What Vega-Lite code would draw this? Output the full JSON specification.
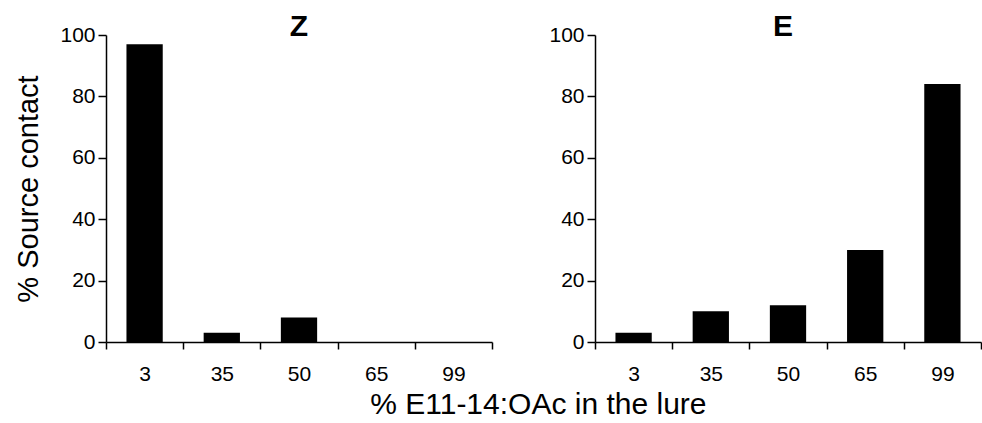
{
  "$schema": "https://vega.github.io/schema/vega-lite/v6.json",
  "padding": {"left": 14, "top": 12, "right": 0, "bottom": 0},
  "background": "white",
  "config": {
    "font": "Liberation Sans",
    "view": {"stroke": null},
    "axis": {
      "grid": false,
      "domainColor": "black",
      "tickColor": "black",
      "labelColor": "black",
      "titleColor": "black",
      "domainWidth": 1.5,
      "tickWidth": 1.5,
      "labelFontSize": 21,
      "labelFont": "Liberation Sans",
      "titleFont": "Liberation Sans"
    },
    "title": {"color": "black", "font": "Liberation Sans"}
  },
  "title": {
    "text": "% E11-14:OAc in the lure",
    "orient": "bottom",
    "anchor": "middle",
    "fontSize": 30,
    "fontWeight": "normal",
    "dx": 40,
    "offset": 6
  },
  "datasets": {
    "bars": [
      {"panel": "Z", "lure": "3", "contact": 97},
      {"panel": "Z", "lure": "35", "contact": 3},
      {"panel": "Z", "lure": "50", "contact": 8},
      {"panel": "Z", "lure": "65", "contact": 0},
      {"panel": "Z", "lure": "99", "contact": 0},
      {"panel": "E", "lure": "3", "contact": 3},
      {"panel": "E", "lure": "35", "contact": 10},
      {"panel": "E", "lure": "50", "contact": 12},
      {"panel": "E", "lure": "65", "contact": 30},
      {"panel": "E", "lure": "99", "contact": 84}
    ]
  },
  "spacing": 55,
  "hconcat": [
    {
      "width": 386,
      "height": 307,
      "data": {"name": "bars"},
      "transform": [{"filter": "datum.panel === 'Z'"}],
      "title": {"text": "Z", "fontSize": 30, "fontWeight": "bold", "anchor": "middle", "baseline": "alphabetic", "offset": -42},
      "mark": {"type": "bar", "color": "black", "width": {"band": 0.47}},
      "encoding": {
        "x": {
          "field": "lure", "type": "ordinal", "sort": ["3", "35", "50", "65", "99"],
          "scale": {"paddingInner": 0, "paddingOuter": 0},
          "axis": {"title": null, "labelAngle": 0, "tickBand": "extent", "tickSize": 7, "labelPadding": 14}
        },
        "y": {
          "field": "contact", "type": "quantitative",
          "scale": {"domain": [0, 100], "nice": false},
          "axis": {"title": "% Source contact", "titleFontSize": 29, "titleFontWeight": "normal", "values": [0, 20, 40, 60, 80, 100], "tickSize": 8, "labelPadding": 3, "titlePadding": 16}
        }
      }
    },
    {
      "width": 386,
      "height": 307,
      "data": {"name": "bars"},
      "transform": [{"filter": "datum.panel === 'E'"}],
      "title": {"text": "E", "fontSize": 30, "fontWeight": "bold", "anchor": "middle", "baseline": "alphabetic", "offset": -42, "dx": -5},
      "mark": {"type": "bar", "color": "black", "width": {"band": 0.47}},
      "encoding": {
        "x": {
          "field": "lure", "type": "ordinal", "sort": ["3", "35", "50", "65", "99"],
          "scale": {"paddingInner": 0, "paddingOuter": 0},
          "axis": {"title": null, "labelAngle": 0, "tickBand": "extent", "tickSize": 7, "labelPadding": 14}
        },
        "y": {
          "field": "contact", "type": "quantitative",
          "scale": {"domain": [0, 100], "nice": false},
          "axis": {"title": null, "values": [0, 20, 40, 60, 80, 100], "tickSize": 8, "labelPadding": 3}
        }
      }
    }
  ]
}
